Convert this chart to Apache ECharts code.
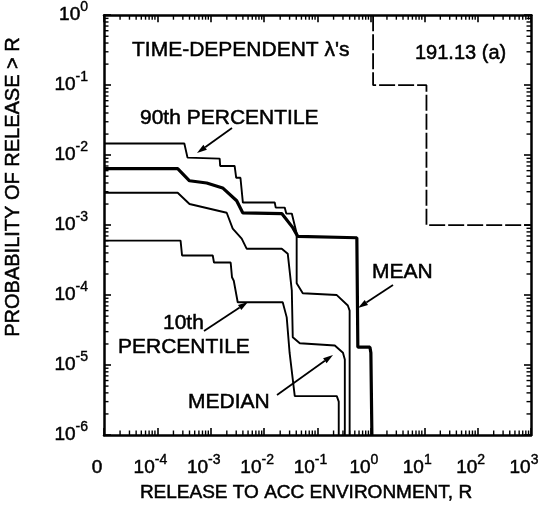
<!DOCTYPE html>
<html><head><meta charset="utf-8">
<script src="https://cdn.jsdelivr.net/npm/echarts@6/dist/echarts.min.js"></script>
<style>html,body{margin:0;padding:0;background:#fff}#c{width:552px;height:516px}</style>
</head><body><div id="c"></div>
<script>
// ---- tick labels ----
const xTickValues = [1e-5, 1e-4, 1e-3, 1e-2, 1e-1, 1, 10, 100, 1000];
const xTickLabels = ['0', '10^-4', '10^-3', '10^-2', '10^-1', '10^0', '10^1', '10^2', '10^3'];
const yTickValues = [1e-6, 1e-5, 1e-4, 1e-3, 1e-2, 1e-1, 1];
const yTickLabels = ['10^-6', '10^-5', '10^-4', '10^-3', '10^-2', '10^-1', '10^0'];

// ---- series values (release R, probability P) ----
const meanR = [1e-5, 2.4e-4, 4.0e-4, 8.4e-4, 1.67e-3, 3.06e-3, 3.97e-3, 0.0214, 0.0344, 0.0427, 0.546, 0.57, 0.57, 0.96, 1.0, 1.045, 1.045];
const meanP = [6.4e-3, 6.4e-3, 4.3e-3, 4.0e-3, 3.4e-3, 2.23e-3, 1.5e-3, 1.46e-3, 9.2e-4, 6.9e-4, 6.6e-4, 6.6e-4, 1.8e-5, 1.8e-5, 1.5e-5, 1.5e-5, 1e-6];

const p90R = [1e-5, 3.2e-4, 3.67e-4, 1.47e-3, 1.5e-3, 2.8e-3, 3.0e-3, 3.6e-3, 4.0e-3, 0.0158, 0.0165, 0.0243, 0.026, 0.033, 0.0407, 0.0407, 0.053, 0.23, 0.37, 0.40, 0.40];
const p90P = [0.0147, 0.0147, 9.2e-3, 8.9e-3, 7.0e-3, 7.0e-3, 4.75e-3, 4.75e-3, 2.1e-3, 2.1e-3, 1.78e-3, 1.78e-3, 1.46e-3, 1.46e-3, 7.6e-4, 1.47e-4, 1.06e-4, 1.0e-4, 7.1e-5, 6e-5, 1e-6];

const medianR = [1e-5, 2.4e-4, 4.0e-4, 1.99e-3, 2.58e-3, 3.8e-3, 4.7e-3, 0.0214, 0.0277, 0.033, 0.0344, 0.0466, 0.211, 0.30, 0.325, 0.325];
const medianP = [2.9e-3, 2.9e-3, 2.0e-3, 1.5e-3, 8.9e-4, 6.4e-4, 4.6e-4, 4.6e-4, 3.9e-4, 1.17e-4, 2.5e-5, 2.05e-5, 1.9e-5, 1.5e-5, 1.2e-5, 1e-6];

const p10R = [1e-5, 2.72e-4, 2.9e-4, 1.09e-3, 1.15e-3, 2.36e-3, 2.5e-3, 2.7e-3, 3.2e-3, 0.0223, 0.0265, 0.030, 0.0375, 0.23, 0.25, 0.25];
const p10P = [6.0e-4, 6.0e-4, 3.68e-4, 3.68e-4, 2.92e-4, 2.92e-4, 1.8e-4, 1.6e-4, 7.9e-5, 7.9e-5, 4.8e-5, 1.5e-5, 3.6e-6, 3.6e-6, 3.0e-6, 1e-6];

const goalR = [1.1, 1.1, 11, 11, 1000];
const goalP = [1, 0.1, 0.1, 1e-3, 1e-3];

// ---- helpers ----
const FONT = "'Liberation Sans', Arial, Helvetica, sans-serif";
const pair = (rs, ps) => rs.map((r, i) => [r, ps[i]]);
function sup(t) {
  const parts = t.split('^');
  return parts.length === 1 ? '{b|' + parts[0] + '}' : '{b|' + parts[0] + '}{s|' + parts[1] + '}';
}
function labeller(values, labels) {
  return function (v) {
    for (let i = 0; i < values.length; i++) {
      if (Math.abs(Math.log10(v) - Math.log10(values[i])) < 1e-6) return sup(labels[i]);
    }
    return '';
  };
}
const rich = {
  b: { fontSize: 19, fontFamily: FONT, color: '#000', lineHeight: 30, textBorderColor: '#000', textBorderWidth: 0.5 },
  s: { fontSize: 14, fontFamily: FONT, color: '#000', lineHeight: 10, verticalAlign: 'top', textBorderColor: '#000', textBorderWidth: 0.4 }
};

// minor tick positions (axis decoration)
const minorTicks = [];
for (let e = -5; e < 3; e++) for (let m = 2; m <= 9; m++) minorTicks.push([m * Math.pow(10, e), 1e-6, 0]);
for (let e = -6; e < 0; e++) for (let m = 2; m <= 9; m++) minorTicks.push([1e-5, m * Math.pow(10, e), 1]);

function arrow(x1, y1, x2, y2) {
  const ang = Math.atan2(y2 - y1, x2 - x1);
  const L = 10, W = 3;
  const bx = x2 - L * Math.cos(ang), by = y2 - L * Math.sin(ang);
  const px = -Math.sin(ang) * W, py = Math.cos(ang) * W;
  return [
    { type: 'line', shape: { x1: x1, y1: y1, x2: bx, y2: by }, style: { stroke: '#000', lineWidth: 1.8 }, z: 100 },
    { type: 'polygon', shape: { points: [[x2, y2], [bx + px, by + py], [bx - px, by - py]] }, style: { fill: '#000' }, z: 100 }
  ];
}
function txt(x, y, s, size, align) {
  return { type: 'text', x: x, y: y, z: 100,
    style: { text: s, font: size + 'px ' + FONT, fill: '#000', stroke: '#000', lineWidth: 0.5,
      textAlign: align || 'left', textVerticalAlign: 'middle' } };
}

const axisCommon = {
  type: 'log', logBase: 10,
  axisLine: { show: true, lineStyle: { color: '#000', width: 2.5 } },
  axisTick: { show: true, inside: true, length: 7, lineStyle: { color: '#000', width: 1.6 } },
  splitLine: { show: false }, minorTick: { show: false }
};

const chart = echarts.init(document.getElementById('c'), null, { renderer: 'canvas' });
chart.setOption({
  backgroundColor: '#fff',
  animation: false,
  grid: { left: 104, right: 21, top: 14, bottom: 81, show: false },
  xAxis: [
    Object.assign({}, axisCommon, { position: 'bottom', min: 1e-5, max: 1000, splitNumber: 8,
      axisLabel: { show: true, margin: 18, padding: [0, 14, 0, 0], formatter: labeller(xTickValues, xTickLabels), rich: rich } }),
    Object.assign({}, axisCommon, { position: 'top', min: 1e-5, max: 1000, splitNumber: 8, axisLabel: { show: false } })
  ],
  yAxis: [
    Object.assign({}, axisCommon, { position: 'left', min: 1e-6, max: 1, splitNumber: 6,
      axisLabel: { show: true, margin: 16, formatter: labeller(yTickValues, yTickLabels), rich: rich } }),
    Object.assign({}, axisCommon, { position: 'right', min: 1e-6, max: 1, splitNumber: 6, axisLabel: { show: false } })
  ],
  series: [
    { type: 'custom', silent: true, clip: false, data: minorTicks, encode: { x: 0, y: 1 }, z: 5,
      renderItem: function (params, api) {
        const kind = api.value(2), L = 4.5;
        const st = { stroke: '#000', lineWidth: 1.4 };
        if (kind === 0) {
          const v = api.value(0);
          const b = api.coord([v, 1e-6]), t = api.coord([v, 1]);
          return { type: 'group', children: [
            { type: 'line', shape: { x1: b[0], y1: b[1], x2: b[0], y2: b[1] - L }, style: st },
            { type: 'line', shape: { x1: t[0], y1: t[1], x2: t[0], y2: t[1] + L }, style: st }] };
        }
        const v = api.value(1);
        const l = api.coord([1e-5, v]), r = api.coord([1000, v]);
        return { type: 'group', children: [
          { type: 'line', shape: { x1: l[0], y1: l[1], x2: l[0] + L, y2: l[1] }, style: st },
          { type: 'line', shape: { x1: r[0], y1: r[1], x2: r[0] - L, y2: r[1] }, style: st }] };
      } },
    { name: 'goal', type: 'line', data: pair(goalR, goalP), symbol: 'none', silent: true,
      lineStyle: { color: '#000', width: 1.8, type: [16, 3] } },
    { name: '10th', type: 'line', data: pair(p10R, p10P), symbol: 'none', silent: true, lineStyle: { color: '#000', width: 1.9 } },
    { name: 'median', type: 'line', data: pair(medianR, medianP), symbol: 'none', silent: true, lineStyle: { color: '#000', width: 1.9 } },
    { name: '90th', type: 'line', data: pair(p90R, p90P), symbol: 'none', silent: true, lineStyle: { color: '#000', width: 1.9 } },
    { name: 'mean', type: 'line', data: pair(meanR, meanP), symbol: 'none', silent: true, lineStyle: { color: '#000', width: 3.2 } }
  ],
  graphic: [
    txt(132, 50, 'TIME-DEPENDENT \u03bb\'s', 21),
    txt(415, 53, '191.13 (a)', 20),
    txt(140, 118, '90th PERCENTILE', 21),
    txt(372, 272, 'MEAN', 21),
    txt(163, 323, '10th', 21),
    txt(118, 347, 'PERCENTILE', 21),
    txt(188, 402, 'MEDIAN', 21),
    txt(306, 493, 'RELEASE TO ACC ENVIRONMENT, R', 19, 'center'),
    { type: 'text', x: 13, y: 187, rotation: Math.PI / 2, z: 100,
      style: { text: 'PROBABILITY OF RELEASE > R', font: '20px ' + FONT, fill: '#000', stroke: '#000', lineWidth: 0.5,
        textAlign: 'center', textVerticalAlign: 'middle' } }
  ].concat(arrow(232, 128, 197, 153), arrow(393, 285, 358, 308), arrow(204, 331, 248, 302), arrow(277, 395, 333, 355))
});
</script></body></html>
